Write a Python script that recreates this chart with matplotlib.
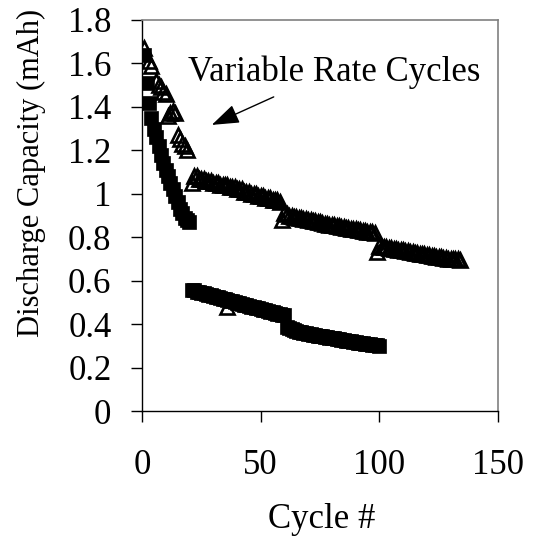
import matplotlib
matplotlib.use("Agg")
import matplotlib.pyplot as plt

plt.rcParams["font.family"] = ["Liberation Serif", "DejaVu Serif"]

# filled squares (constant rate cell)
sq_cycle = list(range(1, 21)) + list(range(21, 61)) + list(range(61, 101))
sq_cap = [1.64, 1.51, 1.42, 1.35, 1.30, 1.26, 1.22, 1.18, 1.14, 1.11,
          1.08, 1.05, 1.02, 0.99, 0.96, 0.93, 0.91, 0.89, 0.88, 0.87,
          # cycles 21-60
          0.555, 0.555, 0.55, 0.547, 0.544, 0.541, 0.538, 0.535, 0.532, 0.529,
          0.526, 0.523, 0.520, 0.517, 0.514, 0.511, 0.508, 0.505, 0.502, 0.499,
          0.496, 0.493, 0.490, 0.487, 0.484, 0.481, 0.478, 0.475, 0.472, 0.469,
          0.466, 0.463, 0.460, 0.457, 0.454, 0.451, 0.448, 0.445, 0.443, 0.440,
          # cycles 61-100
          0.385, 0.380, 0.376, 0.372, 0.368, 0.365, 0.362, 0.359, 0.357, 0.355,
          0.353, 0.351, 0.349, 0.347, 0.345, 0.343, 0.341, 0.339, 0.337, 0.336,
          0.334, 0.332, 0.330, 0.328, 0.326, 0.324, 0.322, 0.320, 0.318, 0.316,
          0.315, 0.313, 0.312, 0.310, 0.309, 0.307, 0.306, 0.304, 0.302, 0.300]

# open triangles (variable rate cell)
tri_cycle = ([1, 3, 4, 6, 7, 8, 9, 10, 11, 12, 13, 14, 15, 16, 17, 18, 19]
             + list(range(21, 59)) + [36] + list(range(59, 99))
             + list(range(99, 135)))
tri_cap = [1.67, 1.61, 1.59, 1.52, 1.50, 1.49, 1.47, 1.46,
           1.36, 1.37, 1.38, 1.37, 1.27, 1.25, 1.23, 1.22, 1.20,
           # cycles 21-58
           1.05, 1.08, 1.08, 1.07, 1.07, 1.07, 1.06, 1.06, 1.06, 1.05,
           1.05, 1.05, 1.04, 1.04, 1.04, 1.04, 1.03, 1.03, 1.03, 1.02,
           1.02, 1.02, 1.01, 1.01, 1.01, 1.00, 1.00, 1.00, 0.99, 0.99,
           0.99, 0.98, 0.98, 0.98, 0.97, 0.97, 0.97, 0.96,
           # odd point at cycle 36
           0.48,
           # cycles 59-98
           0.88, 0.91, 0.905, 0.90, 0.898, 0.895, 0.893, 0.89, 0.888, 0.885,
           0.883, 0.88, 0.878, 0.875, 0.873, 0.87, 0.868, 0.865, 0.863, 0.86,
           0.858, 0.856, 0.854, 0.852, 0.85, 0.848, 0.846, 0.844, 0.842, 0.84,
           0.838, 0.836, 0.834, 0.832, 0.83, 0.828, 0.826, 0.824, 0.822, 0.82,
           # cycles 99-134
           0.73, 0.76, 0.757, 0.755, 0.753, 0.751, 0.749, 0.747, 0.745, 0.743,
           0.741, 0.739, 0.737, 0.735, 0.733, 0.731, 0.729, 0.727, 0.725, 0.723,
           0.721, 0.719, 0.717, 0.715, 0.713, 0.711, 0.709, 0.707, 0.705, 0.703,
           0.702, 0.701, 0.700, 0.699, 0.698, 0.697]

x_ticks = [0, 50, 100, 150]
y_ticks = [0, 0.2, 0.4, 0.6, 0.8, 1.0, 1.2, 1.4, 1.6, 1.8]
y_labels = ["0", "0.2", "0.4", "0.6", "0.8", "1", "1.2", "1.4", "1.6", "1.8"]

fig = plt.figure(figsize=(5.35, 5.48), dpi=100)
ax = fig.add_axes([142 / 535, 1 - 411 / 548, (498 - 142) / 535, (411 - 20) / 548])

ax.plot(tri_cycle, tri_cap, linestyle="none", marker="^", markersize=10.5,
        markerfacecolor="none", markeredgecolor="black", markeredgewidth=1.9)
ax.plot(sq_cycle, sq_cap, linestyle="none", marker="s", markersize=9.5,
        markerfacecolor="black", markeredgecolor="black", markeredgewidth=0.5)

ax.set_xlim(0, 150)
ax.set_ylim(0, 1.8)
ax.set_xticks(x_ticks)
ax.set_yticks(y_ticks)
ax.set_yticklabels(y_labels)
ax.tick_params(direction="out", length=8, width=1, labelsize=25, colors="black")
ax.tick_params(axis="x", pad=19)
ax.tick_params(axis="y", pad=14)

for side in ["left", "bottom"]:
    ax.spines[side].set_color("black")
    ax.spines[side].set_linewidth(1)
for side in ["top", "right"]:
    ax.spines[side].set_color("#808080")
    ax.spines[side].set_linewidth(1.2)

ax.text(19.3, 1.56, "Variable Rate Cycles", fontsize=25, ha="left", va="center")
ax.annotate("", xy=(29.4, 1.317), xytext=(55.5, 1.446),
            arrowprops=dict(arrowstyle="-|>,head_length=1.7,head_width=0.6",
                            color="black", lw=1, shrinkA=0, shrinkB=0,
                            mutation_scale=10))

fig.text(31 / 535, 1 - 173 / 548, "Discharge Capacity (mAh)", fontsize=22,
         rotation=90, ha="center", va="center")
fig.text(322 / 535, 1 - 520 / 548, "Cycle #", fontsize=25, ha="center", va="center")

fig.savefig("out.png", dpi=100)
